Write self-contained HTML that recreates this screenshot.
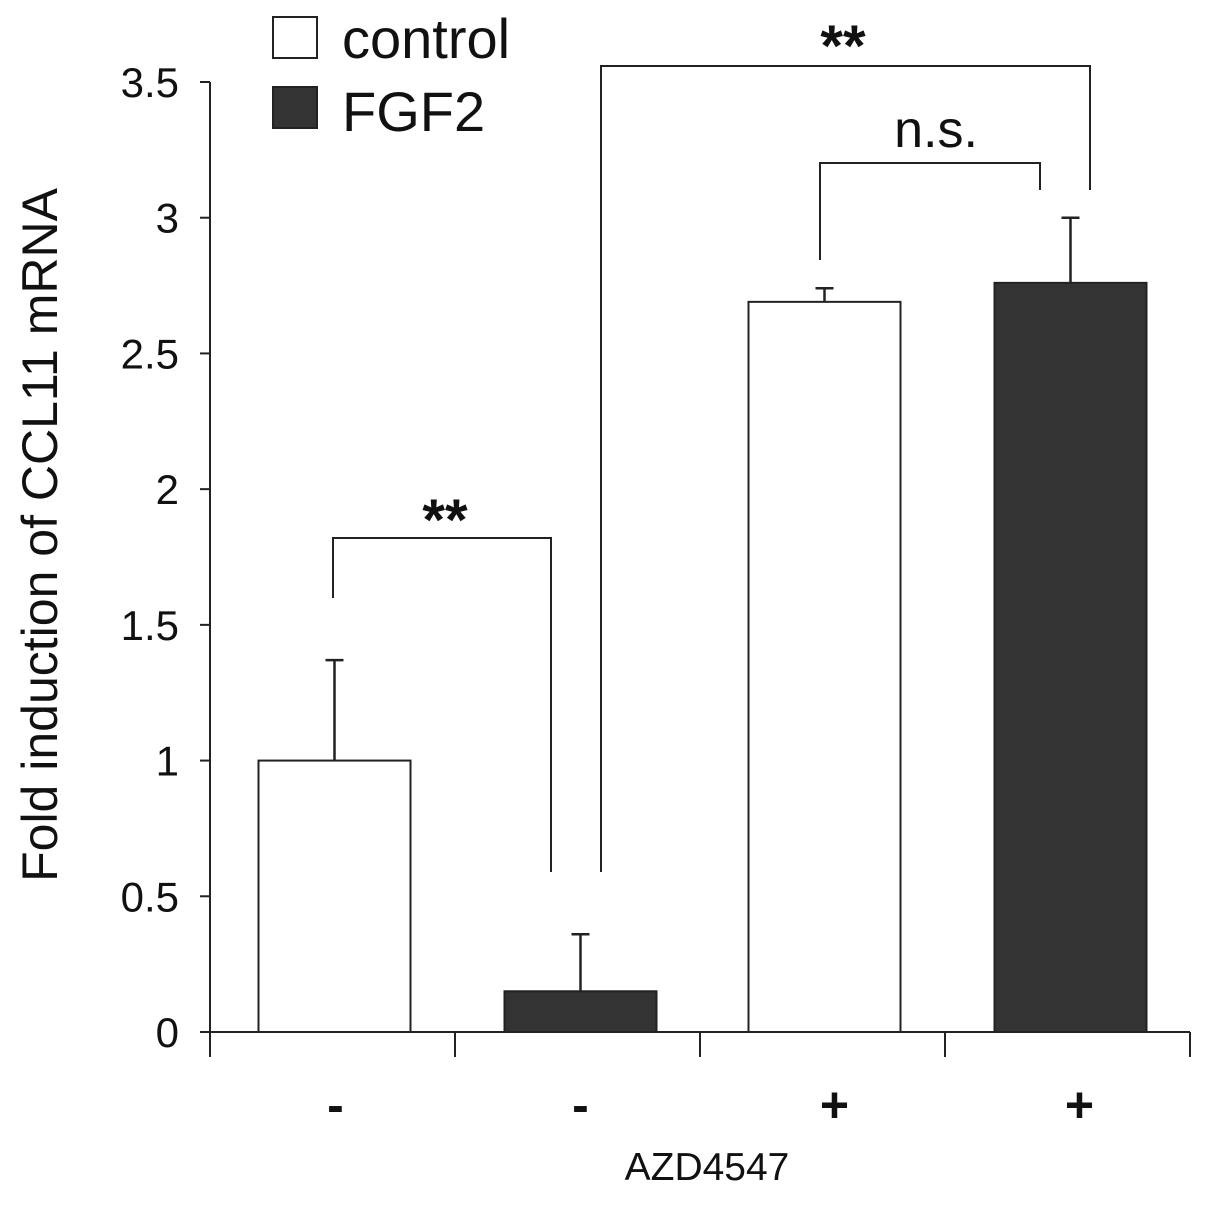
<!DOCTYPE html>
<html><head><meta charset="utf-8"><style>
body{margin:0;background:#fff}
svg text{font-family:"Liberation Sans",Arial,sans-serif;fill:#111}
</style></head><body>
<svg width="1205" height="1202" viewBox="0 0 1205 1202">
<g id="chart"></g>
</svg>
<script>
const categories=["-","-","+","+"];
const series=["control","FGF2","control","FGF2"];
const values=[1.0,0.15,2.69,2.76];
const errors=[0.37,0.21,0.05,0.24];
const yTicks=[0,0.5,1,1.5,2,2.5,3,3.5];
const yTickLabels=["0","0.5","1","1.5","2","2.5","3","3.5"];
const NS="http://www.w3.org/2000/svg";
const g=document.getElementById('chart');
const x0=210,x1=1190,yBase=1032,yTop=82,yMax=3.5;
function y(v){return yBase-(v/yMax)*(yBase-yTop);}
const slot=(x1-x0)/categories.length;
function xc(i){return x0+slot*(i+0.5);}
function el(t,a,txt){const e=document.createElementNS(NS,t);for(const k in a)e.setAttribute(k,a[k]);if(txt!==undefined)e.textContent=txt;g.appendChild(e);return e;}
let e;
e=el('line',{x1:x0,y1:yTop,x2:x0,y2:yBase,stroke:'#222','stroke-width':2});


e=el('line',{x1:x0,y1:yBase,x2:x1,y2:yBase,stroke:'#222','stroke-width':2});


yTicks.forEach((v,i)=>{
 e=el('line',{x1:x0-10,y1:y(v),x2:x0,y2:y(v),stroke:'#222','stroke-width':2});
 
 
 e=el('text',{x:179,y:y(v)+15,'text-anchor':'end','font-size':42},yTickLabels[i]);
 
 
});
for(let i=0;i<=categories.length;i++){
 e=el('line',{x1:x0+slot*i,y1:yBase,x2:x0+slot*i,y2:yBase+25,stroke:'#222','stroke-width':2});
 
 
}
const bw=152;
values.forEach((v,i)=>{
 const c=xc(i)-(i%2==0?-2:-3);
 const dark=series[i]==="FGF2";
 e=el('rect',{x:c-bw/2,y:y(v),width:bw,height:yBase-y(v),fill:dark?'#333':'#fff',stroke:'#222','stroke-width':2});
 
 
 e=el('line',{x1:c,y1:y(v),x2:c,y2:y(v+errors[i]),stroke:'#222','stroke-width':2.5});
 
 
 e=el('line',{x1:c-9,y1:y(v+errors[i]),x2:c+9,y2:y(v+errors[i]),stroke:'#222','stroke-width':2.5});
 
 
 e=el('text',{x:xc(i)+(i<2?3:12),y:1122,'text-anchor':'middle','font-size':50,'font-weight':'bold'},categories[i]);
 
 
});
function bracket(xa,ya,xb,yb,yh,label,lx,ly,fs){
 e=el('polyline',{points:`${xa},${ya} ${xa},${yh} ${xb},${yh} ${xb},${yb}`,fill:'none',stroke:'#222','stroke-width':2});
 
 
 e=el('text',{x:lx,y:ly,'text-anchor':'middle','font-size':fs,'font-weight':label==='**'?'bold':'normal'},label);
 
 
}
bracket(333,598,551,872,538,'**',445,540,58);
bracket(601,872,1090,190,66,'**',843,66,58);
bracket(820,260,1040,190,163,'n.s.',936,147,52);
e=el('rect',{x:273,y:17,width:44,height:41,fill:'#fff',stroke:'#222','stroke-width':2});


e=el('text',{x:342,y:58,'font-size':56},'control');


e=el('rect',{x:273,y:87,width:44,height:41,fill:'#333',stroke:'#222','stroke-width':2});


e=el('text',{x:342,y:131,'font-size':56},'FGF2');


e=el('text',{x:0,y:0,'font-size':50,'text-anchor':'middle',transform:'translate(57,535) rotate(-90)'},'Fold induction of  CCL11 mRNA');


e=el('text',{x:707,y:1180,'font-size':39,'text-anchor':'middle'},'AZD4547');


</script>
</body></html>
